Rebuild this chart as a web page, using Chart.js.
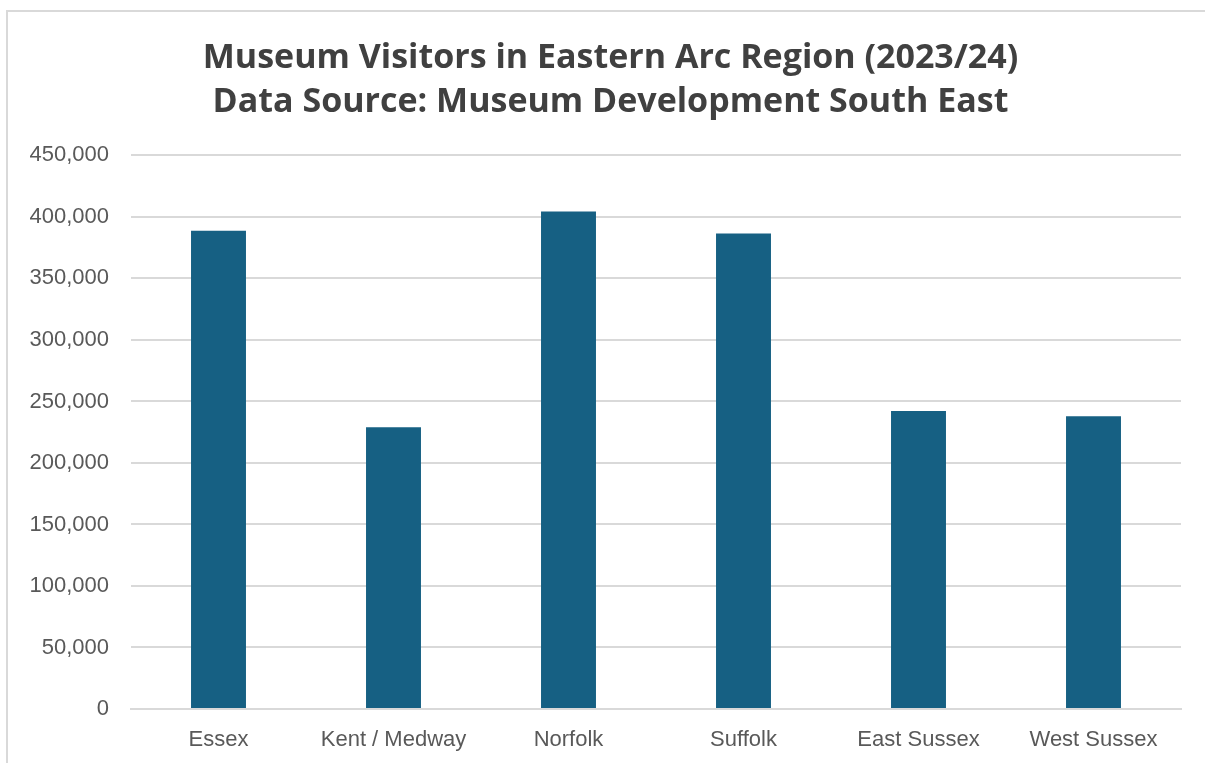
<!DOCTYPE html>
<html>
<head>
<meta charset="utf-8">
<script src="https://cdn.jsdelivr.net/npm/chart.js@4"></script>
<style>
  html, body { margin: 0; padding: 0; background: #ffffff; overflow: hidden; }
  #frame {
    position: absolute; left: 6px; top: 10px; width: 1400px; height: 1000px;
    border-left: 2px solid #d9d9d9; border-top: 2px solid #d9d9d9;
  }
  #chart { position: absolute; left: 0; top: 0; }
</style>
</head>
<body>
<div id="frame"></div>
<canvas id="chart" width="1205" height="763"></canvas>
<script>
// Counties in the Eastern Arc region
const categories = ['Essex', 'Kent / Medway', 'Norfolk', 'Suffolk', 'East Sussex', 'West Sussex'];
// Museum visitors per county, 2023/24
const visitors = [388800, 229100, 404500, 386600, 242300, 238000];
// Value-axis range and step
const yMin = 0;
const yMax = 450000;
const yStep = 50000;
const titleLines = [
  'Museum Visitors in Eastern Arc Region (2023/24)',
  'Data Source: Museum Development South East'
];

const tickFont = { family: '"Liberation Sans", Arial, sans-serif', size: 22 };
const gridColor = '#d9d9d9';

// Centre the title over the frame rather than over the full canvas width
const titleInset = {
  id: 'titleInset',
  afterLayout(chart) {
    if (chart.titleBlock) { chart.titleBlock.left = 40; }
  }
};

new Chart(document.getElementById('chart'), {
  type: 'bar',
  data: {
    labels: categories,
    datasets: [{
      data: visitors,
      backgroundColor: '#166083',
      borderWidth: 0,
      categoryPercentage: 1,
      barPercentage: 0.314
    }]
  },
  options: {
    responsive: false,
    animation: false,
    layout: { padding: { left: 0, right: 24, top: 0, bottom: 0 } },
    plugins: {
      legend: { display: false },
      tooltip: { enabled: false },
      title: {
        display: true,
        text: titleLines,
        color: '#404040',
        font: { family: '"Open Sans", Roboto, sans-serif', size: 34, weight: 'bold', lineHeight: 1.3 },
        padding: { top: 36, bottom: 31 }
      }
    },
    scales: {
      x: {
        grid: { display: false, drawTicks: false },
        border: { display: true, color: gridColor, width: 2 },
        ticks: { color: '#595959', font: tickFont, padding: 18, maxRotation: 0 },
        afterFit: (scale) => { scale.height = 54; }
      },
      y: {
        min: yMin,
        max: yMax,
        grid: { color: gridColor, lineWidth: 2, drawTicks: false },
        border: { display: false },
        ticks: {
          stepSize: yStep,
          color: '#595959',
          font: tickFont,
          padding: 22,
          callback: (v) => v.toLocaleString('en-GB')
        },
        afterFit: (scale) => { scale.width = 131; }
      }
    }
  },
  plugins: [titleInset]
});
</script>
</body>
</html>
